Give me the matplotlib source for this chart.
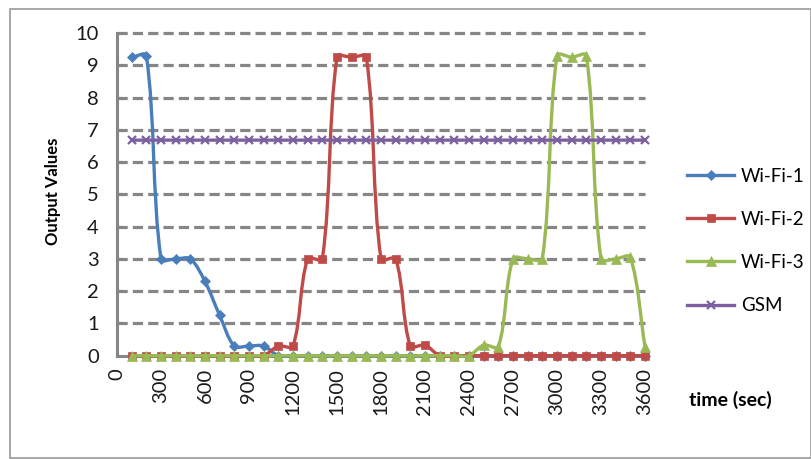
import numpy as np
import matplotlib
matplotlib.use("Agg")
import matplotlib.pyplot as plt
from matplotlib.path import Path
from matplotlib.patches import PathPatch, Rectangle
from matplotlib.lines import Line2D

plt.rcParams['font.family'] = ['Lato', 'DejaVu Sans']

# time axis (sec), one sample every 100 s
time_sec = list(range(100, 3700, 100))

wifi1 = [9.25, 9.3, 3.0, 3.0, 3.0, 2.3, 1.25, 0.3, 0.3, 0.3] + [0] * 26
wifi2 = [0] * 10 + [0.3, 0.3, 3.0, 3.0, 9.25, 9.25, 9.25, 3.0, 3.0, 0.3, 0.33] + [0] * 15
wifi3 = [0] * 24 + [0.33, 0.28, 3.0, 3.0, 3.0, 9.3, 9.25, 9.3, 3.0, 3.0, 3.05, 0.28]
gsm = [6.68] * 36

series_names = ['Wi-Fi-1', 'Wi-Fi-2', 'Wi-Fi-3', 'GSM']
colors = ['#4A7EBB', '#BE4B48', '#98B954', '#7D60A0']
markers = ['D', 's', '^', 'x']
msizes = [5.5, 6, 7, 6]

x_ticks = list(range(0, 3900, 300))
y_ticks = list(range(0, 11))

W, H = 812, 459
fig = plt.figure(figsize=(W / 100, H / 100), dpi=100)
ax = fig.add_axes([117 / W, 1 - 355.7 / H, 528 / W, (355.7 - 33) / H])
ax.set_xlim(0, 3600)
ax.set_ylim(0, 10)

# outer chart border
fig.patches.append(Rectangle((10 / W, 1 / H), 801 / W, 449 / H, transform=fig.transFigure,
                             fill=False, edgecolor='#9a9a9a', lw=1.2))

grid_col = '#868686'
for v in y_ticks[1:]:
    ax.axhline(v, color=grid_col, lw=2.3, dashes=(3.2, 1.6), zorder=1, clip_on=False)

for s in ['top', 'right']:
    ax.spines[s].set_visible(False)
for s in ['left', 'bottom']:
    ax.spines[s].set_color(grid_col)
    ax.spines[s].set_linewidth(2.2)

ax.set_xticks(x_ticks)
ax.set_xticklabels([str(t) for t in x_ticks], rotation=90)
ax.set_yticks(y_ticks)
ax.tick_params(length=0, labelsize=14.5, colors='#1a1a1a')
ax.tick_params(axis='x', pad=9)
ax.tick_params(axis='y', pad=13)


def smooth_path(xs, ys):
    # excel-like smoothed line, control points weighted by segment lengths in pixels
    pts = ax.transData.transform(np.column_stack([xs, ys]))
    n = len(pts)
    verts = [pts[0]]
    codes = [Path.MOVETO]
    for i in range(n - 1):
        p0 = pts[i - 1] if i > 0 else pts[i]
        p1 = pts[i]
        p2 = pts[i + 1]
        p3 = pts[i + 2] if i + 2 < n else pts[i + 1]
        d01 = np.hypot(*(p1 - p0))
        d12 = np.hypot(*(p2 - p1))
        d23 = np.hypot(*(p3 - p2))
        a = d12 / (3 * (d01 + d12)) if d01 + d12 > 0 else 0
        b = d12 / (3 * (d12 + d23)) if d12 + d23 > 0 else 0
        c1 = p1 + (p2 - p0) * a
        c2 = p2 - (p3 - p1) * b
        verts += [c1, c2, p2]
        codes += [Path.CURVE4] * 3
    verts = ax.transData.inverted().transform(np.array(verts))
    return Path(verts, codes)


all_series = [wifi1, wifi2, wifi3, gsm]
handles = []
for k, ys in enumerate(all_series):
    z = 3 + k
    ax.add_patch(PathPatch(smooth_path(time_sec, ys), facecolor='none', edgecolor=colors[k],
                           lw=2.4, zorder=z, clip_on=False))
    ax.plot(time_sec, ys, linestyle='none', marker=markers[k], ms=msizes[k], color=colors[k],
            mew=1.6 if markers[k] == 'x' else 0.5, zorder=z, clip_on=False)
    handles.append(Line2D([], [], color=colors[k], lw=2.4, marker=markers[k], ms=msizes[k],
                          mew=1.6 if markers[k] == 'x' else 0.5))

fig.legend(handles, series_names, loc='upper left', bbox_to_anchor=(680 / W, 1 - 160 / H),
           frameon=False, fontsize=13.5, handlelength=2.5, labelspacing=1.4, handletextpad=0.35,
           borderaxespad=0)

fig.text(53 / W, 1 - 191 / H, 'Output Values', rotation=90, ha='center', va='center',
         fontsize=12, fontweight='bold')
fig.text(730 / W, 1 - 400 / H, 'time (sec)', ha='center', va='center',
         fontsize=14, fontweight='bold')

fig.savefig('out.png', dpi=100)
